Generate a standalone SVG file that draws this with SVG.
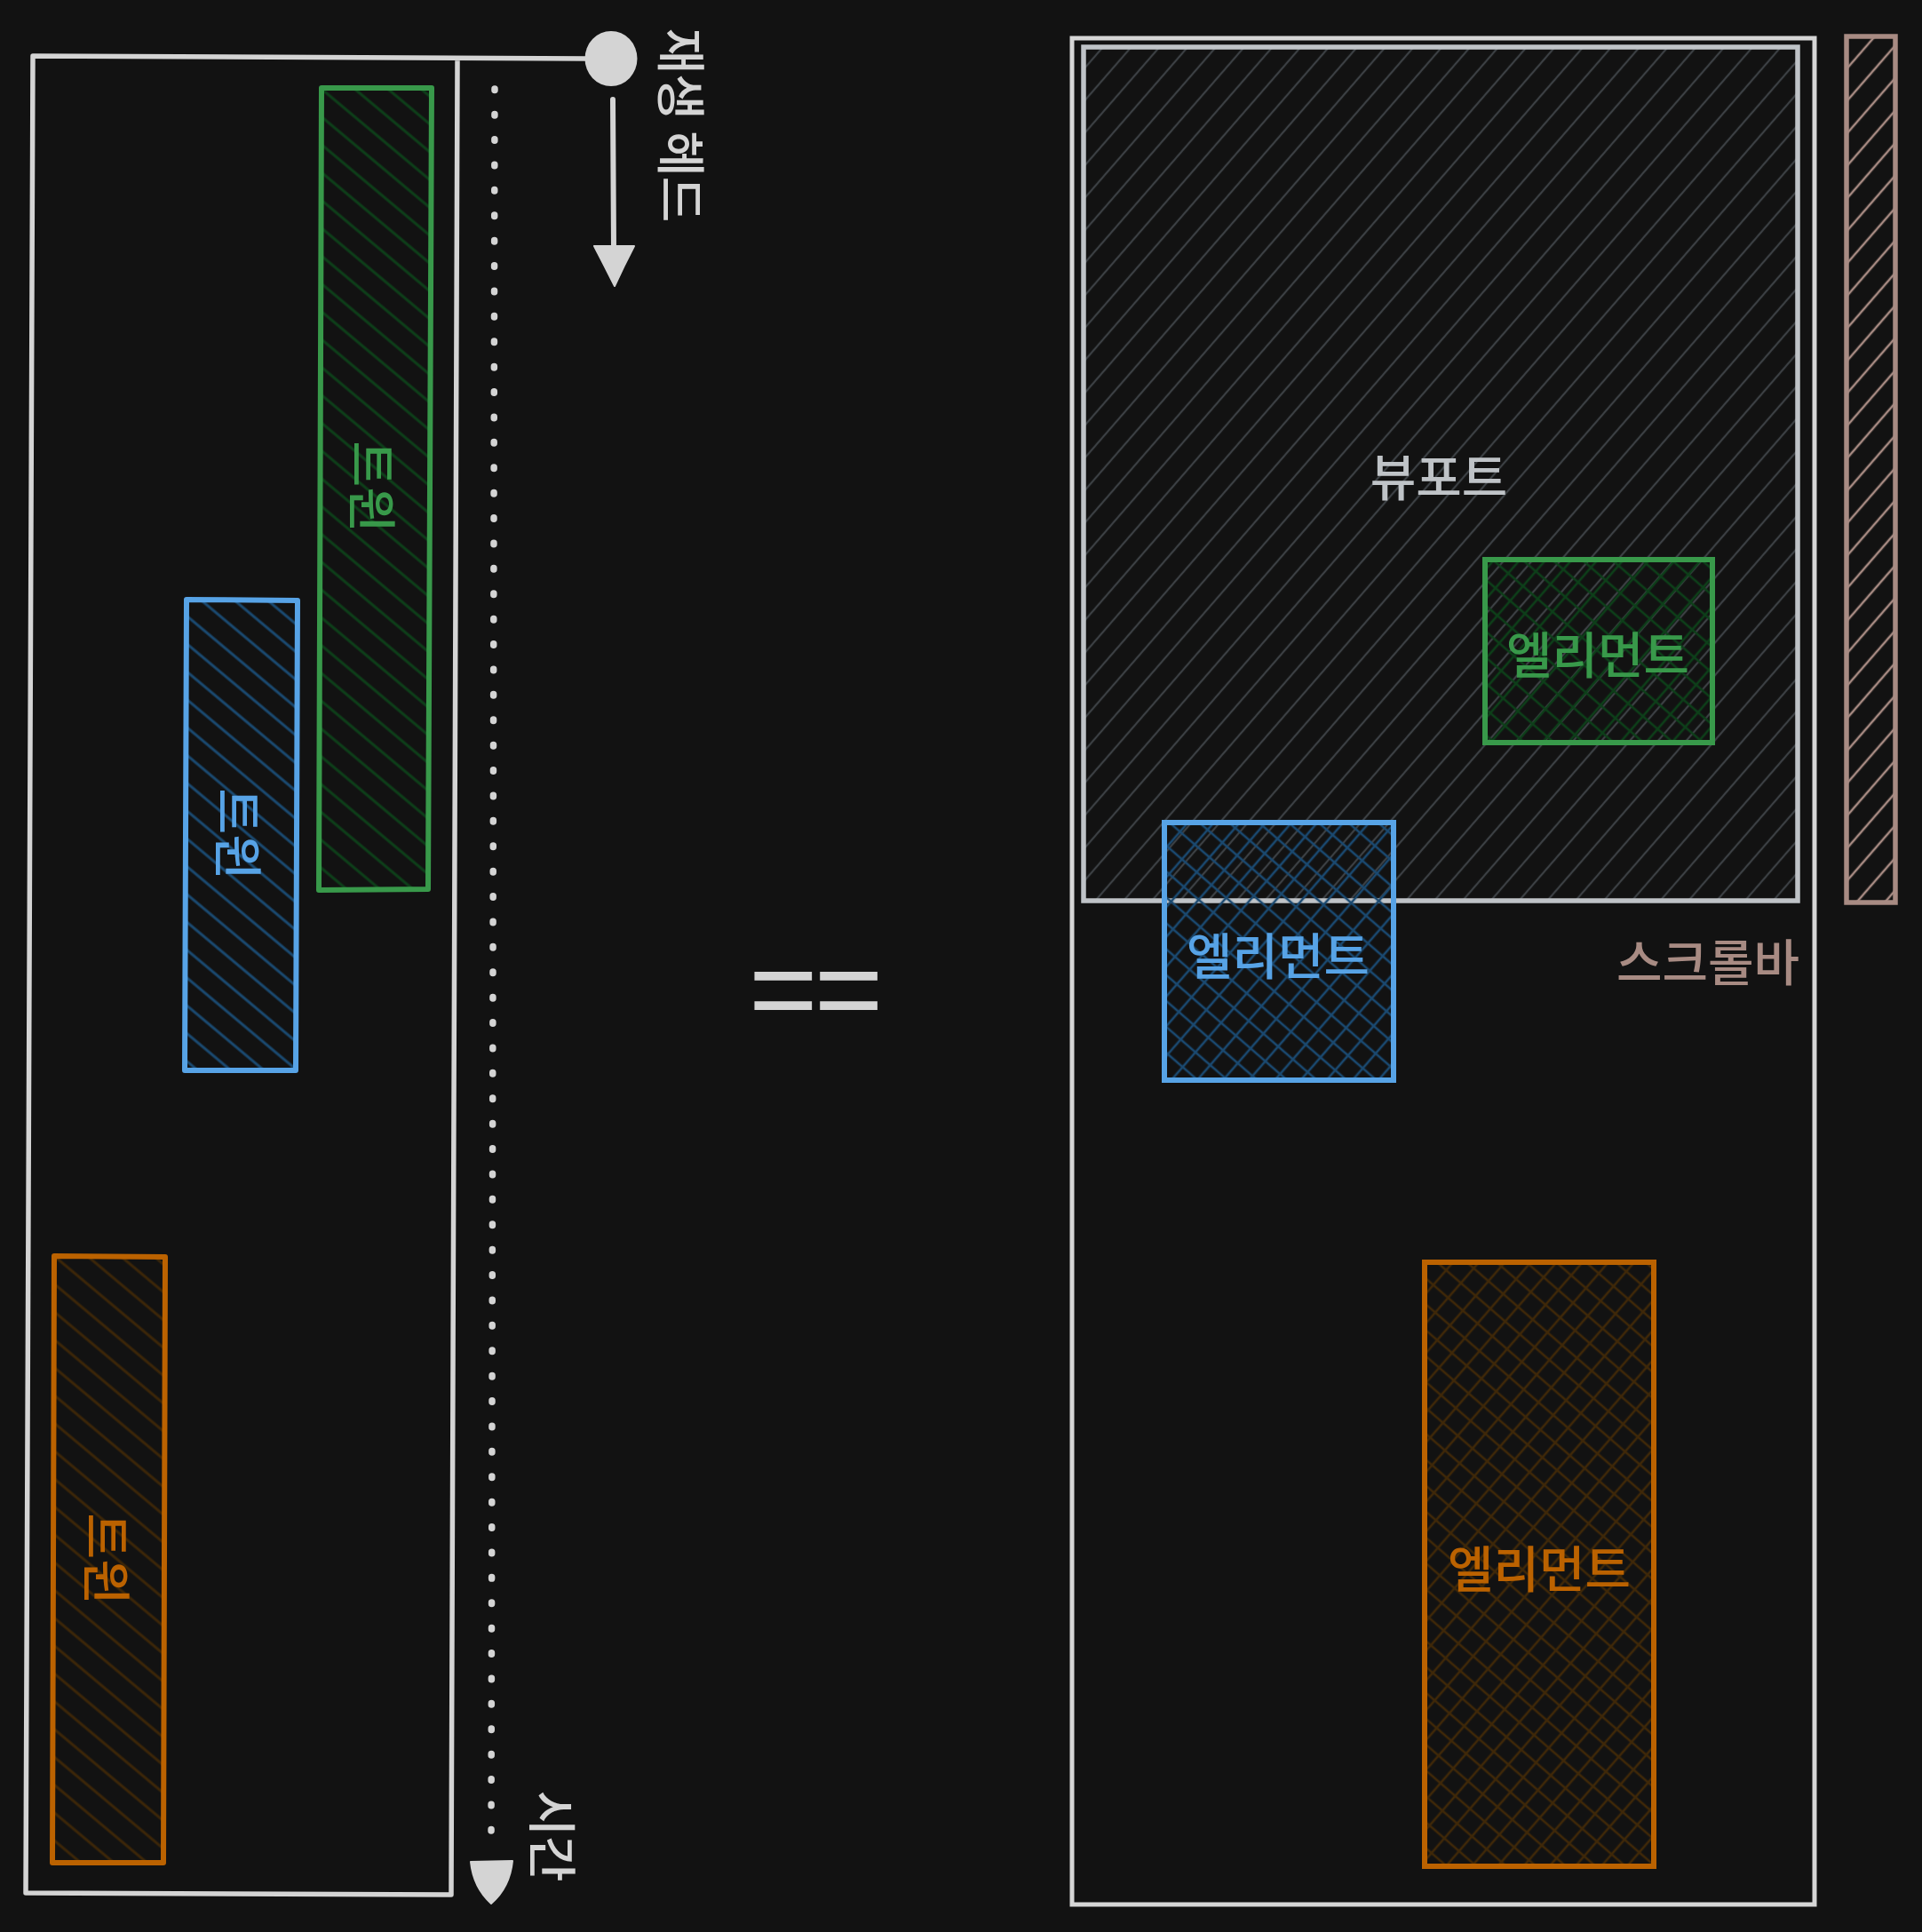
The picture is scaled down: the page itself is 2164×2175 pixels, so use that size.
<svg xmlns="http://www.w3.org/2000/svg" width="2164" height="2175" viewBox="0 0 2164 2175">
<style>
.lbl{font-family:"Noto Sans CJK KR","Noto Sans",sans-serif;font-size:56px;font-weight:500;text-anchor:middle;dominant-baseline:central}
.sk{fill:none;stroke-linejoin:round;stroke-linecap:round}
</style>
<defs>
<pattern id="hVp" patternUnits="userSpaceOnUse" width="24" height="24" patternTransform="rotate(-49)"><line x1="0" y1="12" x2="24" y2="12" stroke="#3c4044" stroke-width="2.2"/></pattern>
<pattern id="hSb" patternUnits="userSpaceOnUse" width="24" height="24" patternTransform="rotate(-49)"><line x1="0" y1="12" x2="24" y2="12" stroke="#a88b83" stroke-width="2.5"/></pattern>
<pattern id="hTg" patternUnits="userSpaceOnUse" width="24" height="24" patternTransform="rotate(40)"><line x1="0" y1="12" x2="24" y2="12" stroke="#0d3f19" stroke-width="3"/></pattern>
<pattern id="hTb" patternUnits="userSpaceOnUse" width="24" height="24" patternTransform="rotate(40)"><line x1="0" y1="12" x2="24" y2="12" stroke="#1a4970" stroke-width="3"/></pattern>
<pattern id="hTo" patternUnits="userSpaceOnUse" width="24" height="24" patternTransform="rotate(40)"><line x1="0" y1="12" x2="24" y2="12" stroke="#3c2608" stroke-width="3"/></pattern>
<pattern id="xG" patternUnits="userSpaceOnUse" width="22" height="22" patternTransform="rotate(-49)"><line x1="0" y1="11" x2="22" y2="11" stroke="#0d3f19" stroke-width="2.6"/><line x1="11" y1="0" x2="11" y2="22" stroke="#0d3f19" stroke-width="2.6"/></pattern>
<pattern id="xB" patternUnits="userSpaceOnUse" width="22" height="22" patternTransform="rotate(-49)"><line x1="0" y1="11" x2="22" y2="11" stroke="#1a4970" stroke-width="2.6"/><line x1="11" y1="0" x2="11" y2="22" stroke="#1a4970" stroke-width="2.6"/></pattern>
<pattern id="xO" patternUnits="userSpaceOnUse" width="22" height="22" patternTransform="rotate(-49)"><line x1="0" y1="11" x2="22" y2="11" stroke="#3f2808" stroke-width="2.6"/><line x1="11" y1="0" x2="11" y2="22" stroke="#3f2808" stroke-width="2.6"/></pattern>
</defs>
<rect width="2164" height="2175" fill="#121212"/>

<g id="timeline-frame">
<path class="sk" d="M660 66 L37 63 L29 2131 L508 2133 L515 68" stroke="#d4d4d4" stroke-width="5.5"/>
</g>

<g id="track-green">
<path d="M362 99 L486 99 L482 1001 L359 1002 Z" fill="url(#hTg)" stroke="#38994a" stroke-width="6" stroke-linejoin="round"/>
<text class="lbl" fill="#38994a" transform="translate(422 548) rotate(90)">트윈</text>
</g>
<g id="track-blue">
<path d="M210 675 L335 676 L333 1205 L208 1205 Z" fill="url(#hTb)" stroke="#57a3e6" stroke-width="6" stroke-linejoin="round"/>
<text class="lbl" fill="#57a3e6" transform="translate(271 939) rotate(90)">트윈</text>
</g>
<g id="track-orange">
<path d="M61 1414 L186 1415 L184 2097 L59 2097 Z" fill="url(#hTo)" stroke="#bb6200" stroke-width="6" stroke-linejoin="round"/>
<text class="lbl" fill="#bb6200" transform="translate(123 1755) rotate(90)">트윈</text>
</g>

<g id="playhead">
<ellipse cx="688" cy="66" rx="29.5" ry="31" fill="#d4d4d4"/>
<text class="lbl" fill="#d4d4d4" transform="translate(770 141) rotate(90)">재생 헤드</text>
</g>

<g id="time-label">
<text class="lbl" fill="#d4d4d4" transform="translate(625 2067) rotate(90)">시간</text>
</g>

<g id="connectors">
<line x1="690" y1="112" x2="691" y2="280" stroke="#d4d4d4" stroke-width="6" stroke-linecap="round"/>
<path d="M669 277 L714 277 Q702 300 692 322 Q681 300 669 277 Z" fill="#d4d4d4" stroke="#d4d4d4" stroke-width="2" stroke-linejoin="round"/>
<line x1="557" y1="100" x2="553" y2="2085" stroke="#d4d4d4" stroke-width="7.5" stroke-linecap="round" stroke-dasharray="1.5 26.9"/>
<path d="M530 2096 L577 2095 Q574 2125 553 2143 Q533 2125 530 2096 Z" fill="#d4d4d4" stroke="#d4d4d4" stroke-width="2" stroke-linejoin="round"/>
</g>

<g id="equals">
<text x="843" y="1159" font-family="Liberation Sans, Arial, sans-serif" font-size="133" fill="#d4d4d4" letter-spacing="-4">==</text>
</g>

<g id="page">
<rect x="1207" y="43" width="836" height="2101" fill="none" stroke="#d6d6d6" stroke-width="5"/>
</g>
<g id="viewport">
<rect x="1220" y="53" width="804" height="961" fill="url(#hVp)" stroke="#bfc3c7" stroke-width="5.5"/>
<text class="lbl" fill="#bfc3c7" x="1620" y="533">뷰포트</text>
</g>
<g id="scrollbar">
<rect x="2079" y="41" width="55" height="975" fill="url(#hSb)" stroke="#a88b83" stroke-width="5.5"/>
<text class="lbl" fill="#a88b83" x="1923" y="1079">스크롤바</text>
</g>
<g id="element-green">
<rect x="1672" y="630" width="256" height="206" fill="url(#xG)" stroke="#38994a" stroke-width="6"/>
<text class="lbl" fill="#38994a" x="1799" y="733">엘리먼트</text>
</g>
<g id="element-blue">
<rect x="1311" y="926" width="258" height="290" fill="url(#xB)" stroke="#57a3e6" stroke-width="6"/>
<text class="lbl" fill="#57a3e6" x="1439" y="1072">엘리먼트</text>
</g>
<g id="element-orange">
<rect x="1604" y="1421" width="258" height="680" fill="url(#xO)" stroke="#bb6200" stroke-width="6"/>
<text class="lbl" fill="#bb6200" x="1733" y="1762">엘리먼트</text>
</g>
</svg>
